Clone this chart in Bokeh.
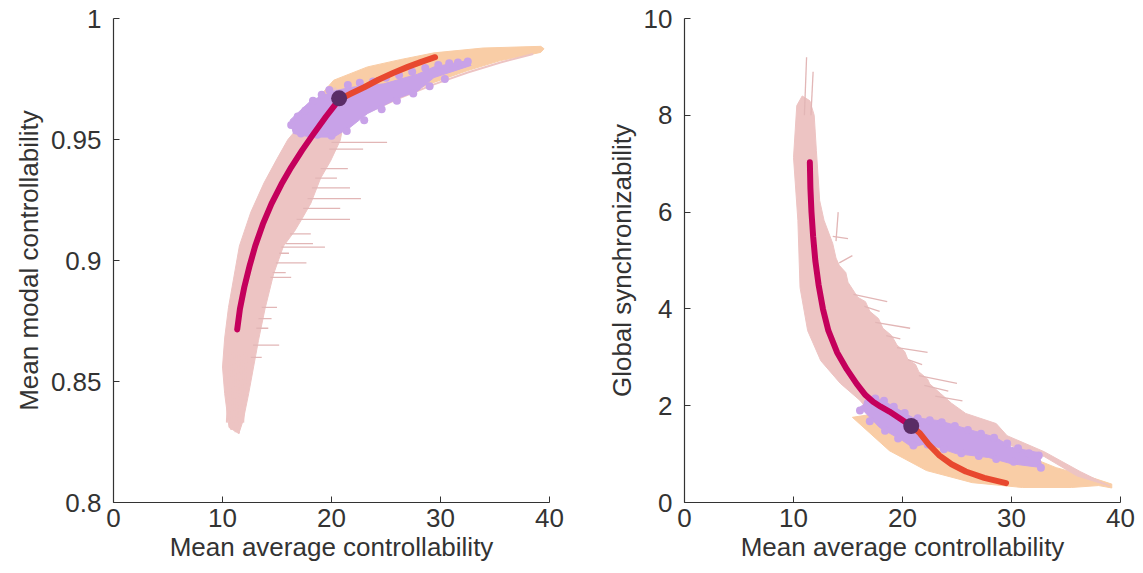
from bokeh.plotting import figure
from bokeh.layouts import row
from bokeh.models import Range1d, FixedTicker, CustomJSTickFormatter
from bokeh.embed import file_html
from bokeh.resources import INLINE

# ---------------- data: left panel (modal vs average controllability) ----------------
L_mean_x = [11.35, 11.6, 12.0, 12.5, 13.0, 13.7, 14.5, 15.4, 16.3, 17.3, 18.3, 19.5, 20.7]
L_mean_y = [0.8715, 0.880, 0.889, 0.898, 0.906, 0.915, 0.9235, 0.9315, 0.9385, 0.9455, 0.952,
            0.9595, 0.9665]
L_red_x = [20.7, 21.8, 23.0, 24.3, 25.7, 27.0, 28.3, 29.5]
L_red_y = [0.9665, 0.969, 0.9716, 0.9747, 0.9776, 0.980, 0.9822, 0.984]
L_dot = (20.7, 0.967)

L_pink_x = [10.6, 10.2, 10.0, 10.2, 10.55, 11.55, 12.6, 13.8, 15.0, 16.0, 17.5, 19.0, 20.3,
            21.5, 20.8, 19.9, 19.0, 18.1, 17.2, 16.6, 15.6, 14.7, 13.9, 13.3, 12.85, 12.4, 11.9, 11.5]
L_pink_y = [0.831, 0.845, 0.856, 0.868, 0.8806, 0.906, 0.920, 0.932, 0.942, 0.950, 0.958, 0.965,
            0.9716, 0.966, 0.9496, 0.941, 0.934, 0.9236, 0.9165, 0.912, 0.906, 0.8946, 0.880, 0.867,
            0.856, 0.845, 0.834, 0.8285]
L_spike_y = [0.9488, 0.946, 0.938, 0.934, 0.930, 0.9256, 0.9215, 0.917, 0.911, 0.907, 0.9055,
             0.903, 0.899, 0.895, 0.893, 0.8806, 0.876, 0.872, 0.865, 0.860]
L_spike_x0 = [20.0, 19.8, 19.0, 18.5, 18.2, 17.8, 17.4, 16.8, 16.2, 15.8, 15.4, 15.2, 14.9, 14.6,
              14.4, 13.6, 13.3, 13.1, 12.8, 12.6]
L_spike_x1 = [25.1, 22.9, 21.5, 20.5, 21.7, 22.7, 20.8, 21.7, 18.1, 18.3, 19.4, 16.1, 17.7, 15.8,
              16.3, 15.0, 14.5, 14.2, 15.2, 13.6]
L_strand_x0 = [10.4, 10.8, 11.2, 11.5, 11.9]
L_strand_y0 = [0.833, 0.830, 0.829, 0.8285, 0.833]
L_strand_x1 = [10.7, 11.1, 11.5, 11.8, 12.2]
L_strand_y1 = [0.862, 0.862, 0.862, 0.862, 0.862]
L_edge_x = [20.8, 23.3, 26.3, 29.4, 32.5, 35.5, 38.5]
L_edge_y = [0.9535, 0.9612, 0.9672, 0.9728, 0.9777, 0.9818, 0.9853]

L_orange_x = [17.0, 20.2, 23.3, 26.3, 29.4, 33.9, 39.2, 39.5, 39.2, 35.5, 32.5, 29.4, 26.3, 23.3,
              21.1, 19.6]
L_orange_y = [0.958, 0.9745, 0.980, 0.983, 0.9858, 0.9878, 0.9885, 0.9875, 0.986, 0.9826, 0.9785,
              0.9736, 0.968, 0.962, 0.955, 0.9496]
L_purple_x = [16.2, 18.1, 20.2, 21.7, 24.8, 27.9, 29.4, 32.5, 32.8, 29.4, 27.9, 26.3, 23.3,
              21.7, 20.2, 18.1, 16.5]
L_purple_y = [0.958, 0.966, 0.970, 0.9715, 0.973, 0.977, 0.980, 0.9826, 0.9806, 0.9756, 0.970,
              0.9674, 0.9607, 0.955, 0.951, 0.951, 0.9525]
L_pdots_x = [16.3, 16.9, 17.6, 18.3, 19.1, 19.8, 21.5, 22.6, 23.8, 25.0, 26.2, 27.4,
             28.6, 29.8, 30.8, 31.6, 32.5, 17.2, 18.7, 20.0, 21.4, 23.0, 24.6, 26.0, 27.5, 29.0, 30.4]
L_pdots_y = [0.956, 0.9595, 0.962, 0.966, 0.9685, 0.9705, 0.9725, 0.9735, 0.974, 0.9755,
             0.9765, 0.978, 0.9795, 0.9808, 0.9815, 0.9818, 0.9822, 0.9525, 0.952, 0.9515, 0.9535,
             0.958, 0.9625, 0.966, 0.969, 0.972, 0.975]

# ---------------- data: right panel (global synchronizability) ----------------
R_mean_x = [11.5, 11.55, 11.65, 11.8, 12.0, 12.3, 12.7, 13.2, 14.0, 14.9, 15.8, 16.6, 17.3, 18.0,
            18.8, 19.8, 20.8]
R_mean_y = [7.03, 6.5, 6.0, 5.5, 5.0, 4.5, 4.0, 3.55, 3.1, 2.75, 2.45, 2.22, 2.08, 1.98, 1.88,
            1.73, 1.58]
R_red_x = [20.8, 21.6, 22.4, 23.4, 24.5, 25.8, 27.5, 29.5]
R_red_y = [1.58, 1.43, 1.2, 0.97, 0.79, 0.64, 0.51, 0.40]
R_dot = (20.8, 1.58)

R_pink_x = [10.0, 10.3, 10.8, 11.5, 11.9, 12.1, 12.4, 12.8, 13.6, 13.9, 14.2, 14.8, 15.0, 15.9,
            16.6, 17.0, 17.8, 18.2, 19.0, 19.5, 20.2, 20.5, 21.2, 21.5, 22.3, 22.5, 23.5, 24.5,
            25.8, 28.6, 29.6, 33.0, 36.3, 39.0,
            36.0, 33.0, 29.6, 25.0, 21.0, 18.3, 16.1, 14.3, 12.5, 11.3, 10.6, 10.4]
R_pink_y = [7.13, 8.2, 8.4, 8.3, 8.0, 7.27, 6.24, 5.83, 5.35, 5.05, 4.9, 4.75, 4.55, 4.24,
            4.15, 3.95, 3.8, 3.6, 3.45, 3.25, 3.12, 2.95, 2.85, 2.7, 2.55, 2.45, 2.25, 2.05,
            1.84, 1.63, 1.38, 1.05, 0.64, 0.34,
            0.55, 0.95, 1.2, 1.4, 1.6, 1.51, 2.11, 2.46, 2.93, 3.55, 4.44, 5.83]
R_spk_x0 = [11.0, 11.6, 13.6, 14.2, 15.5, 16.5, 17.5, 18.5, 19.5, 20.5, 21.5, 22.0, 23.0, 13.9]
R_spk_y0 = [8.0, 8.0, 5.5, 4.95, 4.3, 4.05, 3.72, 3.45, 3.2, 2.95, 2.62, 2.42, 2.2, 5.4]
R_spk_x1 = [11.2, 11.8, 15.0, 15.4, 18.6, 17.9, 20.7, 19.8, 22.3, 21.8, 25.0, 24.2, 25.5, 14.1]
R_spk_y1 = [9.2, 8.9, 5.45, 5.1, 4.15, 3.95, 3.6, 3.38, 3.1, 2.85, 2.46, 2.3, 2.1, 6.0]
R_orange_x = [15.4, 18.8, 22.2, 26.4, 31.0, 35.5, 38.0, 39.2, 39.2, 37.3, 34.1, 31.0, 28.0, 24.0,
              21.0, 18.0]
R_orange_y = [1.76, 1.07, 0.66, 0.41, 0.31, 0.31, 0.35, 0.30, 0.38, 0.52, 0.72, 1.0, 1.2, 1.4,
              1.6, 1.85]
R_purple_x = [16.1, 17.3, 18.5, 20.9, 23.4, 26.4, 28.6, 30.0, 32.5, 32.8, 30.0, 27.9, 24.9, 22.2,
              20.9, 20.0, 17.9]
R_purple_y = [1.97, 2.17, 2.07, 1.76, 1.69, 1.49, 1.34, 1.14, 1.03, 0.72, 0.80, 0.93, 1.01, 1.22,
              1.14, 1.28, 1.55]
R_pdots_x = [16.1, 16.8, 17.5, 18.3, 19.2, 20.2, 21.4, 22.5, 23.6, 24.8, 26.0, 27.2, 28.4, 29.6,
             30.6, 31.6, 32.5, 32.7, 30.2, 28.6, 27.0, 25.4, 23.8, 22.3, 21.0, 19.6, 18.4, 17.0]
R_pdots_y = [1.90, 2.05, 2.15, 2.10, 1.98, 1.85, 1.74, 1.70, 1.66, 1.58, 1.50, 1.42, 1.34, 1.22,
             1.12, 1.02, 0.97, 0.72, 0.84, 0.90, 0.96, 1.02, 1.10, 1.20, 1.18, 1.32, 1.48, 1.68]

PINK = "#EDC4C3"
SPIKE = "#E2B6B6"
ORANGE = "#F9CDA6"
PURPLE = "#C8A2E8"
MAGENTA = "#C4005C"
RED = "#E8482F"
DARK = "#5A2D66"
FONT = "Liberation Sans"
TXT = "#333333"


def style(p, ylabel, yticks):
    p.outline_line_color = None
    p.xgrid.visible = False
    p.ygrid.visible = False
    p.xaxis.ticker = FixedTicker(ticks=[0, 10, 20, 30, 40])
    p.yaxis.ticker = FixedTicker(ticks=yticks)
    p.xaxis.formatter = CustomJSTickFormatter(code="return String(Number(tick.toFixed(2)));")
    p.yaxis.formatter = CustomJSTickFormatter(code="return String(Number(tick.toFixed(2)));")
    p.xaxis.axis_label = "Mean average controllability"
    p.yaxis.axis_label = ylabel
    for ax in (p.xaxis[0], p.yaxis[0]):
        ax.axis_line_color = TXT
        ax.axis_line_width = 1.2
        ax.major_tick_line_color = TXT
        ax.major_tick_in = 6
        ax.major_tick_out = 0
        ax.minor_tick_line_color = None
        ax.major_label_text_font = FONT
        ax.major_label_text_font_size = "26px"
        ax.major_label_text_color = TXT
        ax.axis_label_text_font = FONT
        ax.axis_label_text_font_size = "26px"
        ax.axis_label_text_font_style = "normal"
        ax.axis_label_text_color = TXT
    p.xaxis.major_label_standoff = 6
    p.xaxis.axis_label_standoff = 2
    p.yaxis.major_label_standoff = 12
    p.yaxis.axis_label_standoff = 4


# ---------------- left figure ----------------
pl = figure(width=571, height=573, x_range=Range1d(0, 40), y_range=Range1d(0.8, 1.0),
            output_backend="svg", toolbar_location=None,
            min_border_left=113, min_border_right=22, min_border_top=18, min_border_bottom=71)
style(pl, "Mean modal controllability", [0.8, 0.85, 0.9, 0.95, 1.0])
pl.patch(L_orange_x, L_orange_y, fill_color=ORANGE, line_color=ORANGE, line_width=1)
pl.line(L_edge_x, L_edge_y, line_color=PINK, line_width=2)
pl.patch(L_pink_x, L_pink_y, fill_color=PINK, line_color=PINK, line_width=1)
pl.segment(x0=L_spike_x0, y0=L_spike_y, x1=L_spike_x1, y1=L_spike_y, line_color=SPIKE, line_width=1.3)
pl.segment(x0=L_strand_x0, y0=L_strand_y0, x1=L_strand_x1, y1=L_strand_y1, line_color=PINK, line_width=2)
pl.patch(L_purple_x, L_purple_y, fill_color=PURPLE, line_color=PURPLE, line_width=1)
pl.scatter(L_pdots_x, L_pdots_y, size=8, fill_color=PURPLE, line_color=None)
pl.line(L_mean_x, L_mean_y, line_color=MAGENTA, line_width=6, line_cap="round", line_join="round")
pl.line(L_red_x, L_red_y, line_color=RED, line_width=6, line_cap="round", line_join="round")
pl.scatter([L_dot[0]], [L_dot[1]], size=16, fill_color=DARK, line_color=None)

# ---------------- right figure ----------------
pr = figure(width=572, height=573, x_range=Range1d(0, 40), y_range=Range1d(0, 10),
            output_backend="svg", toolbar_location=None,
            min_border_left=113, min_border_right=23, min_border_top=18, min_border_bottom=71)
style(pr, "Global synchronizability", [0, 2, 4, 6, 8, 10])
pr.patch(R_orange_x, R_orange_y, fill_color=ORANGE, line_color=ORANGE, line_width=1)
pr.patch(R_pink_x, R_pink_y, fill_color=PINK, line_color=PINK, line_width=1)
pr.segment(x0=R_spk_x0, y0=R_spk_y0, x1=R_spk_x1, y1=R_spk_y1, line_color=SPIKE, line_width=1.3)
pr.patch(R_purple_x, R_purple_y, fill_color=PURPLE, line_color=PURPLE, line_width=1)
pr.scatter(R_pdots_x, R_pdots_y, size=8, fill_color=PURPLE, line_color=None)
pr.line(R_mean_x, R_mean_y, line_color=MAGENTA, line_width=6, line_cap="round", line_join="round")
pr.line(R_red_x, R_red_y, line_color=RED, line_width=6, line_cap="round", line_join="round")
pr.scatter([R_dot[0]], [R_dot[1]], size=16, fill_color=DARK, line_color=None)

layout = row(pl, pr)
open("out.html", "w").write(file_html(layout, INLINE))
